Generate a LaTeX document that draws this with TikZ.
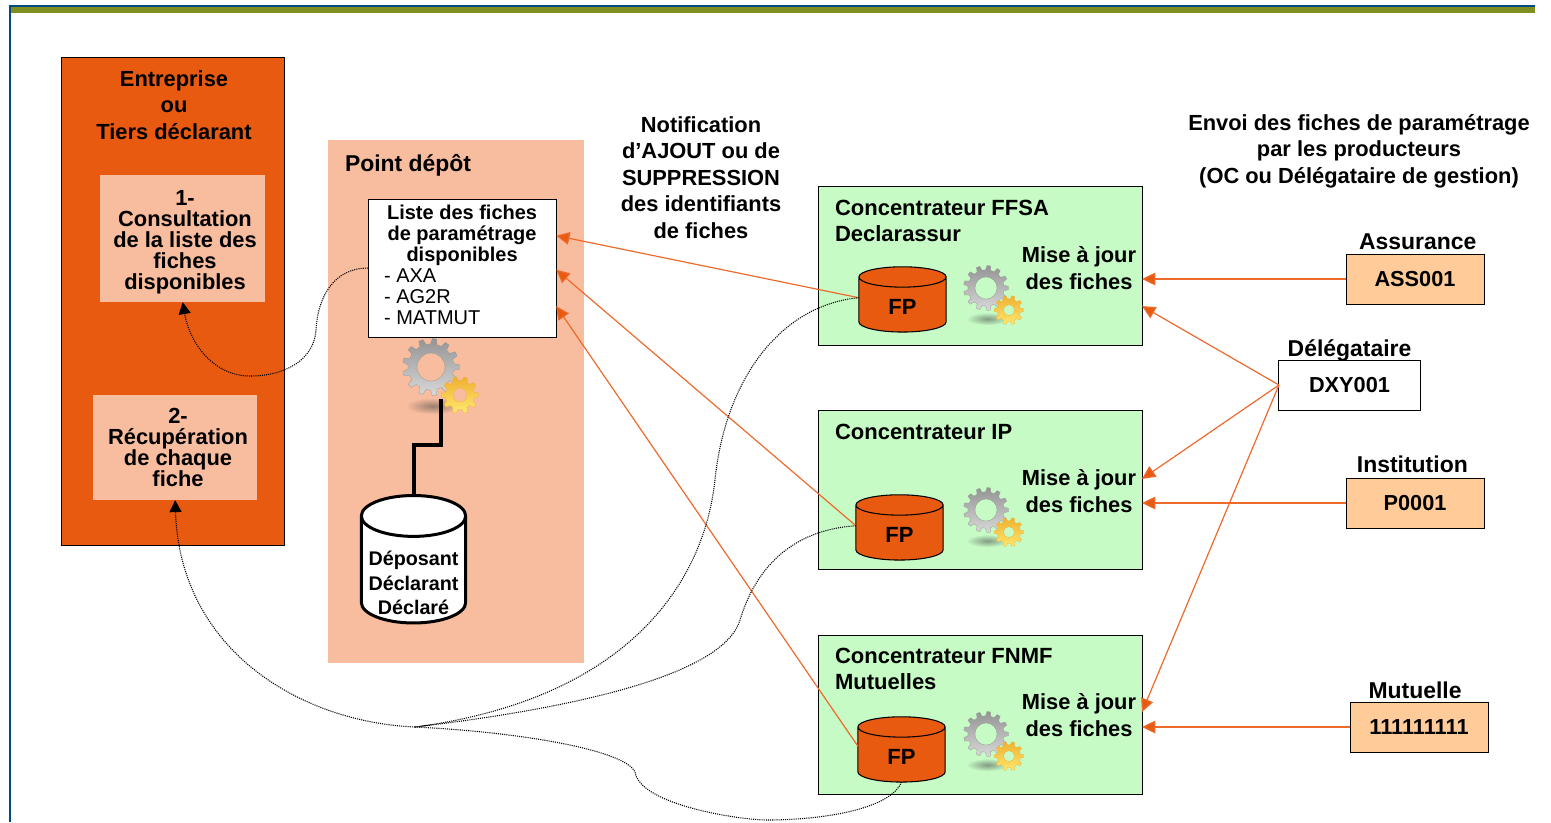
\documentclass[tikz,border=0pt]{standalone}
\usepackage{fontspec}
\setmainfont{Liberation Sans}
\usetikzlibrary{arrows.meta,positioning,calc,shapes.geometric,fadings}
\definecolor{myorange}{HTML}{E85A10}
\definecolor{mypeach}{HTML}{F8BC9E}
\definecolor{mygreen}{HTML}{C6FBC6}
\definecolor{mysand}{HTML}{FFCC99}
\definecolor{myline}{HTML}{EE6A2C}
\definecolor{myframe}{HTML}{004A80}
\definecolor{myolive}{HTML}{7F8F1F}
\colorlet{mysteel}{black!42}
\colorlet{mysilver}{black!15}
\definecolor{mygold}{HTML}{F0B030}
\definecolor{mylemon}{HTML}{FFE870}
% one gear wheel: centre, outer radius, root radius, hole, teeth, colours
\newcommand{\gearwheel}[7]{%
	\pgfmathsetmacro{\gearstep}{360/#5}
	\begin{scope}[shift={#1}]
		\shade[bottom color=#6, top color=#7, draw=#7, very thin, even odd rule]
		({-.3*\gearstep}:#3)
		\foreach \i in {1,...,#5} {
			-- ({(\i-1)*\gearstep-.16*\gearstep}:#2) -- ({(\i-1)*\gearstep+.16*\gearstep}:#2)
			-- ({(\i-1)*\gearstep+.3*\gearstep}:#3) -- ({\i*\gearstep-.3*\gearstep}:#3)
		} -- cycle (0,0) circle (#4);
	\end{scope}
}
\newcommand{\listhead}[1]{\makebox[117pt]{#1}}
\tikzset{
	gearicon/.pic={
		\fill[black!70, opacity=.55, path fading=fuzzyblob] (2,39) ellipse (27 and 8);
		\gearwheel{(0,0)}{28.5}{23}{14}{13}{mysilver}{mysteel}
		\gearwheel{(29,28)}{18.5}{14.5}{7}{10}{mylemon}{mygold}
	},
	panel/.style={rectangle, outer sep=0, inner sep=0, anchor=north west, align=center},
	concbox/.style={panel, draw, line width=.7pt, fill=mygreen, minimum width=85.4mm, minimum height=42mm},
	srcbox/.style={panel, draw, line width=.7pt, anchor=center, minimum width=36.4mm, minimum height=13.2mm,
		font=\bfseries\fontsize{16.3}{19}\selectfont},
	headtext/.style={inner sep=0, outer sep=0, align=center, font=\bfseries\fontsize{17.2}{19.7}\selectfont},
	conctext/.style={headtext, align=left, anchor=north west, font=\bfseries\fontsize{16.5}{19.7}\selectfont},
	bodytext/.style={inner sep=0, outer sep=0, align=center, font=\bfseries\fontsize{16.4}{19.9}\selectfont},
	tighttext/.style={bodytext, font=\bfseries\fontsize{16.4}{15.75}\selectfont},
	fpdb/.style={
		cylinder, shape border rotate=90, aspect=.55, draw, thick, fill=myorange, outer sep=0,
		minimum width=23mm, minimum height=17.2mm,
		font=\bfseries\fontsize{16.5}{19}\selectfont,
	},
	send/.style={draw=myline, line width=.9pt, -{Triangle[length=10pt,width=9.5pt,fill=myorange]}},
	fetch/.style={draw, dash pattern=on .8pt off .8pt, line width=.8pt},
}
\tikzfading[name=fuzzyblob, inner color=transparent!0, outer color=transparent!100]
\begin{document}
\begin{tikzpicture}[x=.75pt, y=-.75pt]
	\useasboundingbox (0,0) rectangle (1551,822);
	% Frame at the page edge
	\fill[myolive] (11,7) rectangle (1535,12.5);
	\draw[myframe, line width=1.5pt] (10,822) -- (10,6) -- (1535,6);
	% Left panel
	\node [panel, draw, line width=.7pt, fill=myorange, minimum width=58.9mm, minimum height=128.8mm] (firm) at (61.5,57) {};
	\node [bodytext] (firmtitle) at (174,105) {Entreprise\\ ou\\ Tiers déclarant};
	\node [panel, fill=mypeach, minimum width=43.6mm, minimum height=33.5mm] (consult) at (100,175) {};
	\node [tighttext] (consulttext) at (185,242) {1-\\ Consultation\\ de la liste des\\ fiches\\ disponibles};
	\node [panel, fill=mypeach, minimum width=43.3mm, minimum height=27.7mm] (fetchbox) at (93,395) {};
	\node [tighttext] (fetchtext) at (178,447) {2-\\ Récupération\\ de chaque\\ fiche};
	% Deposit panel
	\node [panel, fill=mypeach, minimum width=67.4mm, minimum height=137.9mm] (depot) at (328,140) {};
	\node [headtext, anchor=west] (depottitle) at (345,165) {Point dépôt};
	\node [panel, draw, line width=.7pt, fill=white, minimum width=49.6mm, minimum height=36.4mm, align=left,
		font=\fontsize{15}{15.75}\selectfont] (list) at (368,199)
		{\bfseries\listhead{Liste des fiches}\\ \bfseries\listhead{de paramétrage}\\ \bfseries\listhead{disponibles}\\
		- AXA\\ - AG2R\\ - MATMUT\rule[-4.5pt]{0pt}{1pt}};
	\pic at (431,367) {gearicon};
	\node [fpdb, anchor=north, line width=2.25pt, fill=white, aspect=4.6, minimum width=27.5mm, minimum height=33.6mm] (depotdb) at (413.5,495.5) {};
	\node [bodytext, font=\bfseries\fontsize{14.8}{18.4}\selectfont] (depotdbtext) at (413.5,583) {Déposant\\ Déclarant\\ Déclaré};
	\coordinate (gearfoot) at (441,399);
	\draw[line width=3pt] (gearfoot) -- ++(0,46) -| (depotdb.north);
	% Notification and sending captions
	\node [bodytext] (notiftext) at (701,177.5) {Notification\\ d’AJOUT ou de\\ SUPPRESSION\\ des identifiants\\ de fiches};
	\node [bodytext] (sendtext) at (1359,151) {Envoi des fiches de paramétrage\\ par les producteurs\\ (OC ou Délégataire de gestion)};
	% Concentrators
	\node [concbox] (concA) at (818,186) {};
	\node [concbox, below=17.2mm of concA] (concB) {};
	\node [concbox, below=17.2mm of concB] (concC) {};
	\node [conctext] (concAname) at (835,200) {Concentrateur FFSA\\ Declarassur};
	\node [conctext] (concBname) at (835,424) {Concentrateur IP};
	\node [conctext] (concCname) at (835,648) {Concentrateur FNMF\\ Mutuelles};
	\foreach \c/\y in {concA/268, concB/491, concC/715} {
		\node [bodytext] (\c maj) at (1079,\y) {Mise à jour\\ des fiches};
	}
	\node [fpdb] (fpA) at (902.5,307) {FP};
	\node [fpdb] (fpB) at (899.5,535) {FP};
	\node [fpdb] (fpC) at (901.5,757) {FP};
	\pic [scale=.79] at (986,288) {gearicon};
	\pic [scale=.79] at (986,510) {gearicon};
	\pic [scale=.79] at (986,734) {gearicon};
	% Producers
	\node [srcbox, fill=mysand] (ass) at (1415,279) {ASS001};
	\node [srcbox, fill=white, minimum width=37.2mm] (dele) at (1349.5,385) {DXY001};
	\node [srcbox, fill=mysand] (inst) at (1415,503) {P0001};
	\node [srcbox, fill=mysand] (mutu) at (1419,727) {111111111};
	\node [headtext, above=1.1mm of ass.north, xshift=2pt] (asslabel) {Assurance};
	\node [headtext, above=-.45mm of dele.north] (delelabel) {Délégataire};
	\node [headtext, above=1.4mm of inst.north, xshift=-2pt] (instlabel) {Institution};
	\node [headtext, above=.85mm of mutu.north, xshift=-3pt] (mutulabel) {Mutuelle};
	% Updates sent to the concentrators
	\draw[send] (ass.west) -- (ass.west -| concA.east);
	\draw[send] (inst.west) -- (inst.west -| concB.east);
	\draw[send] (mutu.west) -- (mutu.west -| concC.east);
	\draw[send] (dele.west) -- (concA.346);
	\draw[send] (dele.west) -- (concB.4);
	\draw[send] (dele.west) -- (concC.1);
	% Notifications to the list
	\draw[send] (fpA.168) -- (list.19);
	\draw[send] (fpB.168) -- (list.359);
	\draw[send] (fpC.166) -- (list.338);
	% Dotted fetch paths
	\coordinate (hub) at (415,727);
	\draw[fetch, -{Triangle[length=9pt,width=9pt]}] (list.west) .. controls (335,268) and (318,295) .. (316,330)
		.. controls (314,360) and (285,376) .. (250,376) .. controls (215,376) and (190,345) .. (consult.south);
	\draw[fetch, -{Triangle[length=9pt,width=9pt]}] (hub) .. controls (300,722) and (180,650) .. (fetchbox.south);
	\draw[fetch] (fpA.168) .. controls (780,305) and (725,380) .. (715,480) .. controls (703,590) and (620,700) .. (hub);
	\draw[fetch] (fpB.168) .. controls (790,530) and (755,570) .. (740,620) .. controls (725,670) and (600,705) .. (hub);
	\draw[fetch] (hub) .. controls (520,732) and (625,750) .. (635,772) .. controls (640,805) and (740,820) .. (767,820)
		.. controls (820,820) and (890,810) .. (fpC.south);
\end{tikzpicture}
\end{document}
